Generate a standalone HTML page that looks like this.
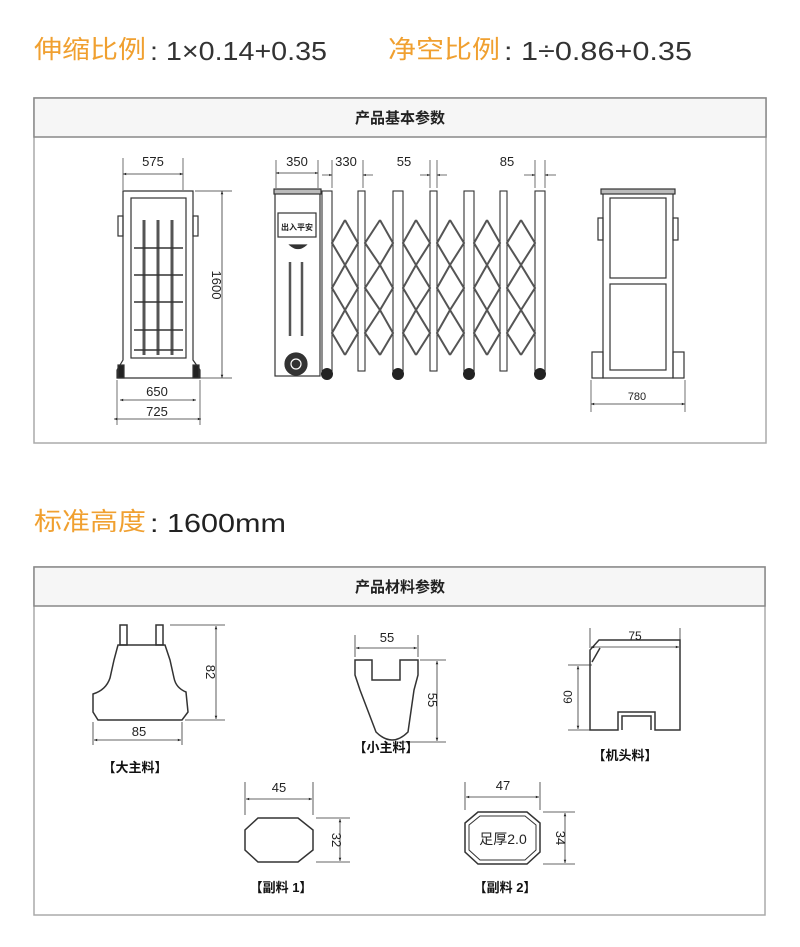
<!DOCTYPE html>
<html><head><meta charset="utf-8"><style>
html,body{margin:0;padding:0;background:#fff;}
svg{display:block}
text{font-family:"Liberation Sans","Noto Sans CJK SC",sans-serif;}
</style></head><body>
<svg width="800" height="947" viewBox="0 0 800 947" xmlns="http://www.w3.org/2000/svg">
<defs>
<marker id="a" viewBox="0 0 10 10" refX="10" refY="5" markerWidth="6" markerHeight="4" orient="auto-start-reverse"><path d="M0,1 L10,5 L0,9z" fill="#222"/></marker>
</defs>
<!-- titles -->
<text x="34" y="58" font-size="25" fill="#f0a030" font-family="Noto Sans CJK SC,sans-serif" textLength="112" lengthAdjust="spacingAndGlyphs">伸缩比例</text>
<text x="150" y="60" font-size="26" fill="#333" textLength="177" lengthAdjust="spacingAndGlyphs">: 1×0.14+0.35</text>
<text x="388" y="58" font-size="25" fill="#f0a030" font-family="Noto Sans CJK SC,sans-serif" textLength="112" lengthAdjust="spacingAndGlyphs">净空比例</text>
<text x="504" y="60" font-size="26" fill="#333" textLength="188" lengthAdjust="spacingAndGlyphs">: 1÷0.86+0.35</text>
<text x="34" y="530" font-size="25" fill="#f0a030" font-family="Noto Sans CJK SC,sans-serif" textLength="112" lengthAdjust="spacingAndGlyphs">标准高度</text>
<text x="150" y="532" font-size="26" fill="#222" textLength="136" lengthAdjust="spacingAndGlyphs">: 1600mm</text>

<!-- box1 -->
<rect x="34" y="98" width="732" height="345" fill="#fff" stroke="#aaa" stroke-width="1.5"/>
<rect x="34" y="98" width="732" height="39" fill="#f6f6f6" stroke="#888" stroke-width="1.5"/>
<text x="400" y="123" font-size="15" text-anchor="middle" font-weight="bold" fill="#222">产品基本参数</text>
<!-- box2 -->
<rect x="34" y="567" width="731" height="348" fill="#fff" stroke="#aaa" stroke-width="1.5"/>
<rect x="34" y="567" width="731" height="39" fill="#f6f6f6" stroke="#888" stroke-width="1.5"/>
<text x="400" y="592" font-size="15" text-anchor="middle" font-weight="bold" fill="#222">产品材料参数</text>

<g stroke="#333" fill="none" stroke-width="1.2">
<!-- front view -->
<path d="M123,191 L193,191 L193,360 L200,370 L200,378 L117,378 L117,370 L123,360 Z"/>
<rect x="131" y="198" width="55" height="160"/>
<rect x="118" y="216" width="5" height="20"/><rect x="193" y="216" width="5" height="20"/>
<g stroke-width="3" stroke="#555"><line x1="144" y1="220" x2="144" y2="355"/><line x1="158" y1="220" x2="158" y2="355"/><line x1="172" y1="220" x2="172" y2="355"/></g>
<g stroke-width="1.5"><line x1="134" y1="248" x2="183" y2="248"/><line x1="134" y1="275" x2="183" y2="275"/><line x1="134" y1="302" x2="183" y2="302"/><line x1="134" y1="330" x2="183" y2="330"/><line x1="134" y1="350" x2="183" y2="350"/></g>
<rect x="118" y="365" width="6" height="13" fill="#222"/><rect x="193" y="365" width="6" height="13" fill="#222"/>
<!-- dims front -->
<line x1="123" y1="158" x2="123" y2="190" stroke-width=".7"/><line x1="183" y1="158" x2="183" y2="190" stroke-width=".7"/>
<line x1="123" y1="174" x2="183" y2="174" stroke-width=".8" marker-start="url(#a)" marker-end="url(#a)"/>
<line x1="222" y1="191" x2="222" y2="378" stroke-width=".8" marker-start="url(#a)" marker-end="url(#a)"/>
<line x1="195" y1="191" x2="232" y2="191" stroke-width=".7"/><line x1="200" y1="378" x2="232" y2="378" stroke-width=".7"/>
<line x1="117" y1="380" x2="117" y2="425" stroke-width=".7"/><line x1="200" y1="380" x2="200" y2="425" stroke-width=".7"/>
<line x1="120" y1="400" x2="196" y2="400" stroke-width=".8" marker-start="url(#a)" marker-end="url(#a)"/>
<line x1="114" y1="419" x2="201" y2="419" stroke-width=".8" marker-start="url(#a)" marker-end="url(#a)"/>

<!-- cabinet -->
<rect x="275" y="191" width="45" height="185"/>
<rect x="274" y="189" width="47" height="5" fill="#bbb"/>
<rect x="278" y="213" width="38" height="24"/>
<path d="M290,245 Q298,252 306,245 Z" fill="#333"/>
<g stroke-width="2.5" stroke="#555"><line x1="290" y1="262" x2="290" y2="336"/><line x1="302" y1="262" x2="302" y2="336"/></g>
<circle cx="296" cy="364" r="11" fill="#333"/><circle cx="296" cy="364" r="5" stroke="#fff"/>
<!-- posts -->
<g stroke-width="1.1">
<rect x="322" y="191" width="10" height="180"/>
<rect x="358" y="191" width="7" height="180"/>
<rect x="393" y="191" width="10" height="180"/>
<rect x="430" y="191" width="7" height="180"/>
<rect x="464" y="191" width="10" height="180"/>
<rect x="500" y="191" width="7" height="180"/>
<rect x="535" y="191" width="10" height="180"/>
</g>
<g fill="#222" stroke="none">
<circle cx="327" cy="374" r="6"/><circle cx="398" cy="374" r="6"/><circle cx="469" cy="374" r="6"/><circle cx="540" cy="374" r="6"/>
</g>
<!-- lattice -->
<g stroke-width="2" stroke="#555">
<path d="M345,220 L332,243 L345,265 L332,288 L345,310 L332,333 L345,355 M345,220 L358,243 L345,265 L358,288 L345,310 L358,333 L345,355"/>
<path d="M380,220 L365,243 L380,265 L365,288 L380,310 L365,333 L380,355 M380,220 L393,243 L380,265 L393,288 L380,310 L393,333 L380,355"/>
<path d="M416,220 L403,243 L416,265 L403,288 L416,310 L403,333 L416,355 M416,220 L430,243 L416,265 L430,288 L416,310 L430,333 L416,355"/>
<path d="M450,220 L437,243 L450,265 L437,288 L450,310 L437,333 L450,355 M450,220 L464,243 L450,265 L464,288 L450,310 L464,333 L450,355"/>
<path d="M487,220 L474,243 L487,265 L474,288 L487,310 L474,333 L487,355 M487,220 L500,243 L487,265 L500,288 L487,310 L500,333 L487,355"/>
<path d="M521,220 L507,243 L521,265 L507,288 L521,310 L507,333 L521,355 M521,220 L535,243 L521,265 L535,288 L521,310 L535,333 L521,355"/>
</g>
<!-- top dims middle -->
<g stroke-width=".7">
<line x1="276" y1="160" x2="276" y2="188"/><line x1="318" y1="160" x2="318" y2="188"/>
<line x1="276" y1="173" x2="318" y2="173" marker-start="url(#a)" marker-end="url(#a)"/>
<line x1="332" y1="160" x2="332" y2="188"/><line x1="363" y1="160" x2="363" y2="188"/>
<line x1="322" y1="175" x2="332" y2="175" marker-end="url(#a)"/><line x1="373" y1="175" x2="363" y2="175" marker-end="url(#a)"/>
<line x1="430" y1="160" x2="430" y2="188"/><line x1="437" y1="160" x2="437" y2="188"/>
<line x1="420" y1="175" x2="430" y2="175" marker-end="url(#a)"/><line x1="447" y1="175" x2="437" y2="175" marker-end="url(#a)"/>
<line x1="535" y1="160" x2="535" y2="188"/><line x1="545" y1="160" x2="545" y2="188"/>
<line x1="524" y1="175" x2="535" y2="175" marker-end="url(#a)"/><line x1="556" y1="175" x2="545" y2="175" marker-end="url(#a)"/>
</g>

<!-- side view -->
<rect x="603" y="192" width="70" height="186"/>
<rect x="601" y="189" width="74" height="5" fill="#bbb"/>
<rect x="610" y="198" width="56" height="80"/><rect x="610" y="284" width="56" height="86"/>
<rect x="598" y="218" width="5" height="22"/><rect x="673" y="218" width="5" height="22"/>
<rect x="592" y="352" width="11" height="26"/><rect x="673" y="352" width="11" height="26"/>
<line x1="591" y1="380" x2="591" y2="412" stroke-width=".7"/><line x1="685" y1="380" x2="685" y2="412" stroke-width=".7"/>
<line x1="591" y1="404" x2="685" y2="404" stroke-width=".8" marker-start="url(#a)" marker-end="url(#a)"/>
</g>
<g font-size="13" fill="#222" text-anchor="middle">
<text x="153" y="166">575</text>
<text x="157" y="396">650</text><text x="157" y="416">725</text>
<text x="212" y="285" transform="rotate(90 212 285)">1600</text>
<text x="297" y="166">350</text><text x="346" y="166">330</text><text x="404" y="166">55</text><text x="507" y="166">85</text>
<text x="637" y="400" font-size="11">780</text>
<text x="297" y="230" font-size="8" font-weight="bold">出入平安</text>
</g>

<!-- materials -->
<g stroke="#333" fill="none" stroke-width="1.5">
<path d="M120,625 L120,645 L127,645 L127,625 Z M156,625 L156,645 L163,645 L163,625 Z"/>
<path d="M118,645 L165,645 L170,660 L174,678 Q176,688 186,692 L188,712 L182,720 L98,720 L93,712 L93,694 Q106,690 110,678 L114,660 Z"/>
<path d="M355,675 L355,660 L372,660 L372,680 L400,680 L400,660 L418,660 L418,675 L414,690 L408,732 Q392,748 376,732 L360,690 Z"/>
<path d="M590,730 L590,650 L599,640 L680,640 L680,730 L655,730 L655,712 L618,712 L618,730 Z"/>
<path d="M622,730 L622,716 L651,716 L651,730"/>
<path d="M592,662 L600,648"/>
<path d="M258,818 L298,818 L313,830 L313,850 L298,862 L258,862 L245,850 L245,830 Z"/>
<path d="M478,812 L527,812 L540,823 L540,852 L527,864 L478,864 L465,852 L465,823 Z"/>
<path d="M480,816 L525,816 L536,825 L536,850 L525,860 L480,860 L469,850 L469,825 Z" stroke-width="1"/>
</g>
<g stroke="#333" stroke-width=".8" fill="none">
<line x1="170" y1="625" x2="225" y2="625"/><line x1="185" y1="720" x2="225" y2="720"/>
<line x1="216" y1="626" x2="216" y2="719" marker-start="url(#a)" marker-end="url(#a)"/>
<line x1="93" y1="722" x2="93" y2="745"/><line x1="182" y1="722" x2="182" y2="745"/>
<line x1="94" y1="740" x2="181" y2="740" marker-start="url(#a)" marker-end="url(#a)"/>
<line x1="355" y1="635" x2="355" y2="657"/><line x1="418" y1="635" x2="418" y2="657"/>
<line x1="356" y1="648" x2="417" y2="648" marker-start="url(#a)" marker-end="url(#a)"/>
<line x1="420" y1="660" x2="446" y2="660"/><line x1="400" y1="742" x2="446" y2="742"/>
<line x1="437" y1="661" x2="437" y2="741" marker-start="url(#a)" marker-end="url(#a)"/>
<line x1="590" y1="628" x2="590" y2="648"/><line x1="680" y1="628" x2="680" y2="648"/>
<line x1="591" y1="647" x2="679" y2="647" marker-start="url(#a)" marker-end="url(#a)"/>
<line x1="568" y1="665" x2="592" y2="665"/><line x1="568" y1="730" x2="590" y2="730"/>
<line x1="578" y1="666" x2="578" y2="729" marker-start="url(#a)" marker-end="url(#a)"/>
<line x1="245" y1="782" x2="245" y2="815"/><line x1="313" y1="782" x2="313" y2="815"/>
<line x1="246" y1="799" x2="312" y2="799" marker-start="url(#a)" marker-end="url(#a)"/>
<line x1="316" y1="818" x2="350" y2="818"/><line x1="316" y1="862" x2="350" y2="862"/>
<line x1="340" y1="819" x2="340" y2="861" marker-start="url(#a)" marker-end="url(#a)"/>
<line x1="465" y1="782" x2="465" y2="810"/><line x1="540" y1="782" x2="540" y2="810"/>
<line x1="466" y1="797" x2="539" y2="797" marker-start="url(#a)" marker-end="url(#a)"/>
<line x1="543" y1="812" x2="575" y2="812"/><line x1="543" y1="864" x2="575" y2="864"/>
<line x1="565" y1="813" x2="565" y2="863" marker-start="url(#a)" marker-end="url(#a)"/>
</g>
<g font-size="13" fill="#222" text-anchor="middle">
<text x="139" y="736">85</text>
<text x="206" y="672" transform="rotate(90 206 672)">82</text>
<text x="387" y="642">55</text>
<text x="428" y="700" transform="rotate(90 428 700)">55</text>
<text x="635" y="640" font-size="12">75</text>
<text x="572" y="697" font-size="12" transform="rotate(-90 572 697)">60</text>
<text x="279" y="792">45</text>
<text x="332" y="840" transform="rotate(90 332 840)">32</text>
<text x="503" y="790">47</text>
<text x="556" y="838" transform="rotate(90 556 838)">34</text>
<text x="503" y="844" font-size="14">足厚2.0</text>
</g>
<g font-size="13" fill="#111" font-weight="bold" text-anchor="middle">
<text x="135" y="772">【大主料】</text>
<text x="386" y="752">【小主料】</text>
<text x="625" y="760">【机头料】</text>
<text x="281" y="892">【副料 1】</text>
<text x="505" y="892">【副料 2】</text>
</g>
</svg>
</body></html>
